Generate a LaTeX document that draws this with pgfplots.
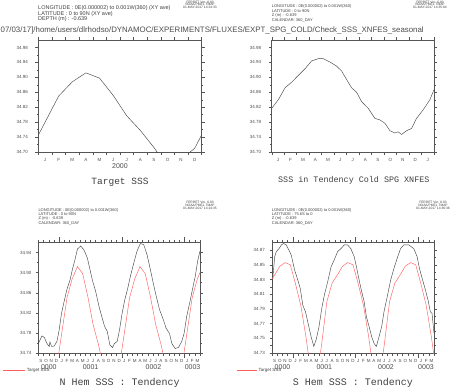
\documentclass[border=0pt]{standalone}
\usepackage{pgfplots}
\pgfplotsset{compat=1.18}
\usepackage{fontspec}
\setmainfont{Liberation Sans}
\newfontfamily\monofont{Liberation Mono}
\definecolor{ferretred}{RGB}{255,95,95}
\definecolor{axisgray}{RGB}{85,85,85}
\definecolor{linegray}{RGB}{70,70,70}
\newcommand{\fs}[1]{\fontsize{#1}{#1}\selectfont}
\pgfplotsset{
  ferret/.style={
    scale only axis,
    axis line style={axisgray, line width=0.5pt},
    tick style={axisgray, line width=0.4pt},
    tick align=outside,
    major tick length=3pt,
    minor tick length=1.8pt,
    tick label style={font=\fs{4.5}, text=black!70},
    /pgf/number format/assume math mode=true,
    yticklabel style={/pgf/number format/fixed, /pgf/number format/fixed zerofill, /pgf/number format/precision=2, xshift=-1pt},
    minor y tick num=1,
    x tick label as interval,
  },
}
\begin{document}
\begin{tikzpicture}
\path[use as bounding box] (0pt,0pt) rectangle (452pt,-389pt);

% ---------------- Panel 1 ----------------
\begin{axis}[ferret, at={(38.3pt,-152pt)}, anchor=south west, width=163.2pt, height=112pt,
  xmin=0, xmax=12, ymin=34.70, ymax=35.00,
  ytick={34.70,34.74,34.78,34.82,34.86,34.90,34.94,34.98},
  yticklabel style={xshift=-3pt},
  xtick={0,...,12}, xticklabels={J,F,M,A,M,J,J,A,S,O,N,D}]
\addplot[linegray, line width=0.45pt] coordinates {
(-0.5,34.710) (0.5,34.780) (1.5,34.850) (2.5,34.888) (3.5,34.912) (4.5,34.898)
(5.5,34.852) (6.5,34.797) (7.5,34.758) (8.5,34.712) (9.5,34.660) (10.5,34.680)
(11.5,34.710) (12.5,34.780)};
\end{axis}

% ---------------- Panel 2 ----------------
\begin{axis}[ferret, at={(271.7pt,-152pt)}, anchor=south west, width=162.3pt, height=112pt,
  xmin=0, xmax=13, ymin=34.70, ymax=35.00,
  ytick={34.70,34.74,34.78,34.82,34.86,34.90,34.94,34.98},
  yticklabel style={xshift=-3pt},
  xtick={0,...,13}, xticklabels={J,F,M,A,M,J,J,A,S,O,N,D,J}]
\addplot[linegray, line width=0.45pt] coordinates {
(0,34.817) (0.53,34.840) (1.07,34.872) (1.6,34.887) (2.13,34.905) (2.67,34.923)
(3.2,34.944) (3.73,34.950) (4.13,34.950) (4.67,34.941) (5.2,34.930) (5.6,34.917)
(6.0,34.894) (6.4,34.872) (6.8,34.860) (7.2,34.835) (7.73,34.817) (8.27,34.790)
(8.67,34.786) (9.07,34.777) (9.47,34.757) (9.87,34.751) (10.13,34.754) (10.4,34.747)
(10.8,34.757) (11.2,34.763) (11.6,34.790) (12.13,34.813) (12.67,34.840) (13,34.867)};
\end{axis}

% ---------------- Panel 3 ----------------
\begin{axis}[ferret, at={(38.3pt,-353pt)}, anchor=south west, width=161.7pt, height=111pt,
  xmin=0, xmax=31, ymin=34.74, ymax=34.961,
  ytick={34.74,34.78,34.82,34.86,34.90,34.94},
  xtick={0,...,31}, major tick length=2.5pt,
  xticklabels={S,O,N,D,J,F,M,A,M,J,J,A,S,O,N,D,J,F,M,A,M,J,J,A,S,O,N,D,J,F,M},
  extra x ticks={4,16,28}, extra x tick labels={},
  extra x tick style={/pgfplots/major tick length=5pt}]
\addplot[linegray, line width=0.45pt] coordinates {
(0,34.759) (0.71,34.774) (1.15,34.771) (1.66,34.759) (2.1,34.753) (2.23,34.762)
(2.55,34.753) (3.06,34.754) (3.57,34.763) (4.0,34.786) (4.45,34.819) (4.96,34.843)
(5.47,34.866) (6.1,34.886) (6.55,34.907) (7.06,34.927) (7.5,34.947) (8.14,34.953)
(8.77,34.945) (9.41,34.929) (9.91,34.906) (10.42,34.883) (10.99,34.863) (11.63,34.833)
(12.26,34.809) (12.71,34.793) (13.22,34.783) (13.72,34.756) (14.23,34.751) (14.61,34.759)
(15.12,34.763) (15.57,34.786) (16.07,34.819) (16.58,34.846) (17.15,34.869) (17.66,34.893)
(18.3,34.919) (18.93,34.943) (19.57,34.958) (20.2,34.956) (20.84,34.936) (21.47,34.907)
(22.1,34.876) (22.61,34.853) (23.25,34.826) (23.88,34.809) (24.52,34.789) (25.15,34.779)
(25.6,34.759) (26.23,34.749) (26.87,34.751) (27.5,34.763) (27.95,34.779) (28.45,34.813)
(29.09,34.843) (29.6,34.869) (30.1,34.893) (30.55,34.923) (31.0,34.943)};
\addplot[ferretred, line width=0.45pt] coordinates {
(-0.5,34.758) (0.5,34.712) (1.5,34.660) (2.5,34.680) (3.5,34.710) (4.5,34.780)
(5.5,34.850) (6.5,34.888) (7.5,34.912) (8.5,34.898) (9.5,34.852) (10.5,34.797)
(11.5,34.758) (12.5,34.712) (13.5,34.660) (14.5,34.680) (15.5,34.710) (16.5,34.780)
(17.5,34.850) (18.5,34.888) (19.5,34.912) (20.5,34.898) (21.5,34.852) (22.5,34.797)
(23.5,34.758) (24.5,34.712) (25.5,34.660) (26.5,34.680) (27.5,34.710) (28.5,34.780)
(29.5,34.850) (30.5,34.888) (31.5,34.912)};
\end{axis}

% ---------------- Panel 4 ----------------
\begin{axis}[ferret, at={(272pt,-353pt)}, anchor=south west, width=162pt, height=111pt,
  xmin=0, xmax=31, ymin=34.73, ymax=34.881,
  ytick={34.73,34.75,34.77,34.79,34.81,34.83,34.85,34.87},
  xtick={0,...,31}, major tick length=2.5pt,
  xticklabels={S,O,N,D,J,F,M,A,M,J,J,A,S,O,N,D,J,F,M,A,M,J,J,A,S,O,N,D,J,F,M},
  extra x ticks={4,16,28}, extra x tick labels={},
  extra x tick style={/pgfplots/major tick length=5pt}]
\addplot[linegray, line width=0.45pt] coordinates {
(0,34.820) (0.52,34.861) (0.83,34.868) (1.34,34.872) (1.78,34.877) (2.23,34.879)
(2.73,34.877) (3.24,34.870) (3.69,34.863) (4.32,34.843) (4.95,34.829) (5.4,34.818)
(5.9,34.795) (6.41,34.786) (6.92,34.770) (7.49,34.752) (8.0,34.739) (8.44,34.748)
(8.95,34.764) (9.58,34.793) (10.02,34.809) (10.66,34.827) (11.29,34.847) (11.92,34.857)
(12.56,34.868) (13.19,34.872) (13.83,34.877) (14.46,34.877) (15.09,34.872) (15.73,34.861)
(16.17,34.847) (16.68,34.829) (17.18,34.813) (17.63,34.800) (18.07,34.779) (18.58,34.766)
(19.08,34.752) (19.53,34.743) (19.97,34.739) (20.48,34.752) (20.99,34.766) (21.43,34.786)
(22.06,34.807) (22.7,34.829) (23.33,34.845) (23.96,34.859) (24.6,34.872) (25.23,34.877)
(26.18,34.877) (27.13,34.872) (27.77,34.861) (28.21,34.845) (28.72,34.832) (29.35,34.816)
(29.86,34.802) (30.3,34.786) (30.62,34.784) (31.0,34.757)};
\addplot[ferretred, line width=0.45pt] coordinates {
(-0.5,34.825) (0.5,34.836) (1.5,34.848) (2.5,34.853) (3.5,34.850) (4.5,34.824)
(5.5,34.795) (6.5,34.752) (7.5,34.700) (8.5,34.690) (9.5,34.742) (10.5,34.800)
(11.5,34.825) (12.5,34.836) (13.5,34.848) (14.5,34.853) (15.5,34.850) (16.5,34.824)
(17.5,34.795) (18.5,34.752) (19.5,34.700) (20.5,34.690) (21.5,34.742) (22.5,34.800)
(23.5,34.825) (24.5,34.836) (25.5,34.848) (26.5,34.853) (27.5,34.850) (28.5,34.824)
(29.5,34.795) (30.5,34.752) (31.5,34.700)};
\end{axis}

\begin{scope}[x=1pt,y=1pt]
% ---------------- Texts ----------------
\node[anchor=west, inner sep=0, text=black!70] at (0.5,-30)
  {\resizebox{423pt}{!}{07/03/17]/home/users/dlrhodso/DYNAMOC/EXPERIMENTS/FLUXES/EXPT\_SPG\_COLD/Check\_SSS\_XNFES\_seasonal}};

\begin{scope}[every node/.style={anchor=west, inner sep=0, text=black!75, font=\fs{5.5}}]
\node at (38,-8.3) {LONGITUDE : 0E(0.000002) to 0.001W(360) (XY ave)};
\node at (38,-13.9) {LATITUDE : 0 to 90N (XY ave)};
\node at (38,-19.4) {DEPTH (m) : -0.639};
\end{scope}
\begin{scope}[every node/.style={anchor=west, inner sep=0, text=black!75, font=\fs{4}}]
\node at (271.7,-6.7) {LONGITUDE : 0E(0.000002) to 0.001W(360)};
\node at (271.7,-11.2) {LATITUDE : 0 to 90N};
\node at (271.7,-15.7) {Z (m) : -0.639};
\node at (271.7,-20.2) {CALENDAR: 360\_DAY};
\node at (38.3,-210) {LONGITUDE : 0E(0.000002) to 0.001W(360)};
\node at (38.3,-214.4) {LATITUDE : 0 to 90N};
\node at (38.3,-218.7) {Z (m) : -0.639};
\node at (38.3,-223) {CALENDAR: 360\_DAY};
\node at (271.7,-210) {LONGITUDE : 0E(0.000002) to 0.001W(360)};
\node at (271.7,-214.4) {LATITUDE : 75.6S to 0};
\node at (271.7,-218.7) {Z (m) : -0.639};
\node at (271.7,-223) {CALENDAR: 360\_DAY};
\end{scope}
\begin{scope}[every node/.style={inner sep=0, text=black!75, font=\fs{3.3}}]
\node at (200,-2) {FERRET Ver. 6.83};
\node at (200,-4.8) {NOAA/PMEL TMAP};
\node at (200,-7.6) {01-MAY-2017 14:24:33};
\node at (430,-2) {FERRET Ver. 6.83};
\node at (430,-4.8) {NOAA/PMEL TMAP};
\node at (430,-7.6) {01-MAY-2017 14:35:04};
\node at (200,-202.5) {FERRET Ver. 6.83};
\node at (200,-205.3) {NOAA/PMEL TMAP};
\node at (200,-208.1) {01-MAY-2017 14:24:35};
\node at (433,-202.5) {FERRET Ver. 6.83};
\node at (433,-205.3) {NOAA/PMEL TMAP};
\node at (433,-208.1) {01-MAY-2017 14:36:36};
\end{scope}

\begin{scope}[every node/.style={inner sep=0, text=black!70, font=\fs{7}}]
\node at (120,-166) {2000};
\node at (48.8,-367) {0000};
\node at (90.6,-367) {0001};
\node at (153.4,-367) {0002};
\node at (192.6,-367) {0003};
\node at (282.5,-367) {0000};
\node at (324.3,-367) {0001};
\node at (386,-367) {0002};
\node at (426,-367) {0003};
\end{scope}

\begin{scope}[every node/.style={inner sep=0, text=black!75}]
\node[font=\monofont\fs{9.5}] at (120,-182) {Target SSS};
\node[font=\monofont\fs{8.4}] at (353.8,-180) {SSS in Tendency Cold SPG XNFES};
\node[font=\monofont\fs{10}] at (119.7,-383) {N Hem SSS : Tendency};
\node[font=\monofont\fs{10}] at (353,-383) {S Hem SSS : Tendency};
\end{scope}

\draw[ferretred, line width=0.45pt] (3.3,-370) -- (25,-370);
\node[anchor=west, inner sep=0, text=black!75, font=\fs{4.5}] at (26.7,-370) {Target SSS};
\draw[ferretred, line width=0.45pt] (236.7,-370) -- (256.7,-370);
\node[anchor=west, inner sep=0, text=black!75, font=\fs{4.5}] at (258.3,-370) {Target SSS};
\end{scope}
\end{tikzpicture}
\end{document}
